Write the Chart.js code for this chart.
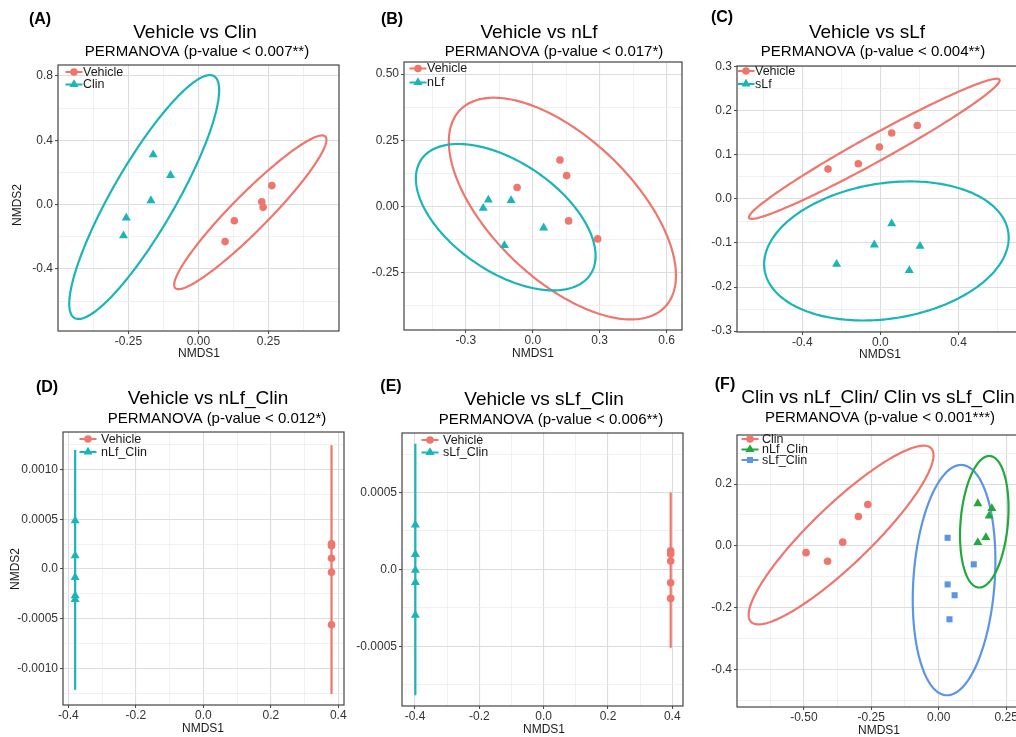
<!DOCTYPE html>
<html><head><meta charset="utf-8">
<script src="https://cdn.jsdelivr.net/npm/chart.js@4.4.1/dist/chart.umd.min.js"></script>
<style>
html,body{margin:0;padding:0;background:#fff;width:1016px;height:737px;overflow:hidden;position:relative}
canvas{position:absolute}
</style></head><body>
<script>
// ---------------- DATA ----------------
// Panel A: Vehicle vs Clin
const A_xTicks = [-0.25, 0, 0.25];           const A_xLabels = ['-0.25','0.00','0.25'];
const A_yTicks = [-0.4, 0, 0.4, 0.8];        const A_yLabels = ['-0.4','0.0','0.4','0.8'];
const A_vehicle_x = [0.095, 0.128, 0.226, 0.231, 0.262];
const A_vehicle_y = [-0.230, -0.100, 0.017, -0.017, 0.118];
const A_clin_x = [-0.268, -0.258, -0.170, -0.162, -0.100];
const A_clin_y = [-0.193, -0.083, 0.025, 0.311, 0.182];
const A_vehicle_ell = [0.185, -0.048, 0.268, 0.471, 0.046, -0.081];   // centre x,y ; axis u ; axis v
const A_clin_ell = [-0.194, 0.047, 0.250, 0.751, 0.096, -0.104];

// Panel B: Vehicle vs nLf
const B_xTicks = [-0.3, 0, 0.3, 0.6];        const B_xLabels = ['-0.3','0.0','0.3','0.6'];
const B_yTicks = [-0.25, 0, 0.25, 0.5];      const B_yLabels = ['-0.25','0.00','0.25','0.50'];
const B_vehicle_x = [-0.070, 0.122, 0.152, 0.161, 0.291];
const B_vehicle_y = [0.072, 0.176, 0.117, -0.054, -0.122];
const B_nlf_x = [-0.222, -0.199, -0.097, 0.049, -0.127];
const B_nlf_y = [-0.006, 0.025, 0.023, -0.080, -0.147];
const B_vehicle_ell = [0.133, -0.0075, 0.459, -0.372, 0.220, 0.192];
const B_nlf_ell = [-0.121, -0.040, 0.378, -0.218, 0.139, 0.170];

// Panel C: Vehicle vs sLf
const C_xTicks = [-0.4, 0, 0.4];             const C_xLabels = ['-0.4','0.0','0.4'];
const C_yTicks = [-0.3, -0.2, -0.1, 0, 0.1, 0.2, 0.3];
const C_yLabels = ['-0.3','-0.2','-0.1','0.0','0.1','0.2','0.3'];
const C_vehicle_x = [-0.268, -0.113, -0.005, 0.058, 0.189];
const C_vehicle_y = [0.068, 0.080, 0.118, 0.150, 0.167];
const C_slf_x = [-0.224, -0.031, 0.058, 0.148, 0.203];
const C_slf_y = [-0.148, -0.104, -0.056, -0.162, -0.107];
const C_vehicle_ell = [-0.031, 0.114, 0.641, 0.157, 0.033, -0.026];
const C_slf_ell = [0.031, -0.118, 0.626, 0.030, 0, 0.155];

// Panel D: Vehicle vs nLf_Clin
const D_xTicks = [-0.4, -0.2, 0, 0.2, 0.4];  const D_xLabels = ['-0.4','-0.2','0.0','0.2','0.4'];
const D_yTicks = [-0.001, -0.0005, 0, 0.0005, 0.001];
const D_yLabels = ['-0.0010','-0.0005','0.0','0.0005','0.0010'];
const D_vehicle_x = [0.38, 0.38, 0.38, 0.38, 0.38];
const D_vehicle_y = [0.000254, 0.000234, 0.000107, -0.000033, -0.000562];
const D_nlfclin_x = [-0.38, -0.38, -0.38, -0.38, -0.38];
const D_nlfclin_y = [0.000485, 0.000134, -0.000084, -0.000268, -0.000305];
const D_vehicle_ell = [0.38, -0.0000025, 0, 0.0012475, 0, 0];
const D_nlfclin_ell = [-0.38, -0.0000065, 0, 0.0012015, 0, 0];

// Panel E: Vehicle vs sLf_Clin
const E_xTicks = [-0.4, -0.2, 0, 0.2, 0.4];  const E_xLabels = ['-0.4','-0.2','0.0','0.2','0.4'];
const E_yTicks = [-0.0005, 0, 0.0005];       const E_yLabels = ['-0.0005','0.0','0.0005'];
const E_vehicle_x = [0.395, 0.395, 0.395, 0.395, 0.395];
const E_vehicle_y = [0.000121, 0.000100, 0.000054, -0.000087, -0.000189];
const E_slfclin_x = [-0.399, -0.399, -0.399, -0.399, -0.399];
const E_slfclin_y = [0.000289, 0.000098, -0.000005, -0.000085, -0.000298];
const E_vehicle_ell = [0.395, -0.0000025, 0, 0.0005025, 0, 0];
const E_slfclin_ell = [-0.399, 0.000002, 0, 0.000815, 0, 0];

// Panel F: Clin vs nLf_Clin / Clin vs sLf_Clin
const F_xTicks = [-0.5, -0.25, 0, 0.25];     const F_xLabels = ['-0.50','-0.25','0.00','0.25'];
const F_yTicks = [-0.4, -0.2, 0, 0.2];       const F_yLabels = ['-0.4','-0.2','0.0','0.2'];
const F_clin_x = [-0.492, -0.412, -0.356, -0.298, -0.263];
const F_clin_y = [-0.022, -0.050, 0.012, 0.095, 0.134];
const F_nlfclin_x = [0.145, 0.197, 0.187, 0.175, 0.145];
const F_nlfclin_y = [0.137, 0.121, 0.097, 0.027, 0.011];
const F_slfclin_x = [0.033, 0.130, 0.033, 0.059, 0.040];
const F_slfclin_y = [0.026, -0.060, -0.125, -0.160, -0.238];
const F_clin_ell = [-0.362, 0.035, 0.334, 0.281, 0.077, -0.069];
const F_slfclin_ell = [0.057, -0.111, 0.026, 0.373, 0.151, 0];
const F_nlfclin_ell = [0.169, 0.078, 0.0185, 0.213, 0.088, 0];

// ---------------- STYLE ----------------
const FONT = "'Liberation Sans', Arial, sans-serif";
const RED = '#EE766D', TEAL = '#19B5B8', GREEN = '#22A93C', BLUE = '#5A95E8';
Chart.defaults.font.family = FONT;

function pts(xs, ys){ return xs.map((x,i)=>({x:x, y:ys[i]})); }
function minorsOf(maj, min, max){
  const step = maj[1]-maj[0], out=[];
  const cand = [maj[0]-step/2].concat(maj.map(m=>m+step/2));
  cand.forEach(v=>{ if (v>min && v<max) out.push(v); });
  return out;
}
function drawMarker(ctx, style, x, y, r, color){
  ctx.save(); ctx.fillStyle = color; ctx.beginPath();
  if (style === 'triangle'){
    for (let k=0;k<3;k++){ const a = -Math.PI/2 + k*2*Math.PI/3;
      const px = x + Math.cos(a)*r, py = y + Math.sin(a)*r;
      if (k===0) ctx.moveTo(px,py); else ctx.lineTo(px,py); }
    ctx.closePath();
  } else if (style === 'rect'){
    const s = Math.SQRT1_2*r; ctx.rect(x-s, y-s, 2*s, 2*s);
  } else { ctx.arc(x, y, r, 0, 2*Math.PI); }
  ctx.fill(); ctx.restore();
}

const ellipsePlugin = {
  id: 'ellipses',
  beforeDatasetsDraw(chart, args, o){
    const {ctx, chartArea:ca} = chart, sx = chart.scales.x, sy = chart.scales.y;
    ctx.save();
    ctx.beginPath(); ctx.rect(ca.left, ca.top, ca.right-ca.left, ca.bottom-ca.top); ctx.clip();
    (o.items||[]).forEach(e=>{
      const p = e.p;
      const cx = sx.getPixelForValue(p[0]), cy = sy.getPixelForValue(p[1]);
      const ux = sx.getPixelForValue(p[0]+p[2]) - cx, uy = sy.getPixelForValue(p[1]+p[3]) - cy;
      const vx = sx.getPixelForValue(p[0]+p[4]) - cx, vy = sy.getPixelForValue(p[1]+p[5]) - cy;
      ctx.beginPath();
      const N = 240;
      for (let i=0;i<=N;i++){
        const t = i/N*2*Math.PI, c = Math.cos(t), s = Math.sin(t);
        const px = cx + ux*c + vx*s, py = cy + uy*c + vy*s;
        if (i===0) ctx.moveTo(px,py); else ctx.lineTo(px,py);
      }
      ctx.strokeStyle = e.color; ctx.lineWidth = 2.2; ctx.lineJoin='round'; ctx.stroke();
    });
    ctx.restore();
  }
};

const decoPlugin = {
  id: 'deco',
  afterDraw(chart, args, o){
    const ctx = chart.ctx, ca = chart.chartArea;
    const X = v => v - o.ox, Y = v => v - o.oy;
    ctx.save();
    ctx.strokeStyle = '#444'; ctx.lineWidth = 1.2;
    ctx.strokeRect(ca.left, ca.top, ca.right-ca.left, ca.bottom-ca.top);
    ctx.fillStyle = '#000'; ctx.textAlign = 'center'; ctx.textBaseline = 'middle';
    ctx.font = 'bold 16px ' + FONT; ctx.fillText(o.label[0], X(o.label[1]), Y(o.label[2]));
    ctx.font = '19px ' + FONT; ctx.fillText(o.title[0], X(o.title[1]), Y(o.title[2]));
    ctx.font = '15px ' + FONT; ctx.fillText(o.sub[0], X(o.sub[1]), Y(o.sub[2]));
    ctx.font = '12px ' + FONT; ctx.fillStyle = '#1a1a1a';
    ctx.fillText('NMDS1', X(o.xTitle[0]), Y(o.xTitle[1]));
    if (o.yTitle){
      ctx.save(); ctx.translate(X(o.yTitle[0]), Y(o.yTitle[1])); ctx.rotate(-Math.PI/2);
      ctx.fillText('NMDS2', 0, 0); ctx.restore();
    }
    const lg = o.legend;
    ctx.font = '12.5px ' + FONT; ctx.textAlign = 'left';
    chart.data.datasets.forEach((ds,i)=>{
      const xx = X(lg.x), yy = Y(lg.y + i*lg.dy);
      ctx.strokeStyle = ds.backgroundColor; ctx.lineWidth = 2;
      ctx.beginPath(); ctx.moveTo(xx-8.5, yy); ctx.lineTo(xx+8.5, yy); ctx.stroke();
      drawMarker(ctx, ds.pointStyle, xx, yy, ds.pointRadius, ds.backgroundColor);
      ctx.fillStyle = '#1a1a1a'; ctx.fillText(ds.label, X(lg.tx), yy + 0.5);
    });
    ctx.restore();
  }
};

function axis(ticks, labels, min, max, isY){
  const minors = minorsOf(ticks, min, max);
  const all = ticks.concat(minors).sort((a,b)=>a-b);
  const tol = (max-min)*1e-6;
  const isMajor = v => ticks.some(m => Math.abs(m-v) < tol);
  return {
    type:'linear', min:min, max:max,
    afterBuildTicks: s => { s.ticks = all.map(v=>({value:v})); },
    afterFit: s => { if (isY) s.width = 50; else s.height = 20; },
    ticks:{ autoSkip:false, maxRotation:0, minRotation:0, padding: isY ? 2 : 0,
      color:'#333', font:{family:FONT, size:12},
      callback: v => { const k = ticks.findIndex(m => Math.abs(m-v) < tol); return k>=0 ? labels[k] : ''; } },
    grid:{ drawTicks:true, tickLength:3, tickWidth:1,
      color: c => isMajor(c.tick.value) ? '#DDDDDD' : '#EBEBEB',
      lineWidth: c => isMajor(c.tick.value) ? 1.1 : 0.7,
      tickColor: c => isMajor(c.tick.value) ? '#444' : 'rgba(0,0,0,0)' },
    border:{ display:false }
  };
}

function panel(cfg){
  const [fl, ft, fr, fb] = cfg.frame;
  const left = fl - 60, top = cfg.rowTop, width = fr - left + 12, height = cfg.rowH;
  const cv = document.createElement('canvas');
  cv.width = width; cv.height = height;
  cv.style.left = left + 'px'; cv.style.top = top + 'px';
  cv.style.width = width + 'px'; cv.style.height = height + 'px';
  document.body.appendChild(cv);
  new Chart(cv, {
    type:'scatter',
    data:{ datasets: cfg.series.map(s => ({
      label:s.label, data:pts(s.x, s.y), pointStyle:s.style, pointRadius:s.r,
      backgroundColor:s.color, borderColor:s.color, borderWidth:0, pointBorderWidth:0 })) },
    options:{
      responsive:false, animation:false, events:[], devicePixelRatio:1,
      layout:{ padding:{ left:10, top: ft - top, right:12, bottom: height - (fb - top) - 20 } },
      plugins:{ legend:{display:false}, tooltip:{enabled:false},
        ellipses:{ items: cfg.ellipses },
        deco:{ ox:left, oy:top, label:cfg.label, title:cfg.title, sub:cfg.sub,
               xTitle:cfg.xTitle, yTitle:cfg.yTitle, legend:cfg.legend } },
      scales:{ x: axis(cfg.xTicks, cfg.xLabels, cfg.xRange[0], cfg.xRange[1], false),
               y: axis(cfg.yTicks, cfg.yLabels, cfg.yRange[0], cfg.yRange[1], true) }
    },
    plugins:[ellipsePlugin, decoPlugin]
  });
}

const CIRC = 3.8, TRI = 5.2, SQ = 4.3;

panel({ rowTop:0, rowH:368, frame:[58,65,339,331],
  xRange:[-0.502,0.502], yRange:[-0.786,0.868],
  xTicks:A_xTicks, xLabels:A_xLabels, yTicks:A_yTicks, yLabels:A_yLabels,
  series:[{label:'Vehicle', x:A_vehicle_x, y:A_vehicle_y, color:RED, style:'circle', r:CIRC},
          {label:'Clin', x:A_clin_x, y:A_clin_y, color:TEAL, style:'triangle', r:TRI}],
  ellipses:[{p:A_vehicle_ell, color:RED},{p:A_clin_ell, color:TEAL}],
  label:['(A)',40,20], title:['Vehicle vs Clin',195,33], sub:['PERMANOVA (p-value < 0.007**)',197,52],
  xTitle:[199,353.5], yTitle:[18,205], legend:{x:74, y:72, dy:12.5, tx:83} });

panel({ rowTop:0, rowH:368, frame:[404,62,682,330],
  xRange:[-0.577,0.669], yRange:[-0.466,0.546],
  xTicks:B_xTicks, xLabels:B_xLabels, yTicks:B_yTicks, yLabels:B_yLabels,
  series:[{label:'Vehicle', x:B_vehicle_x, y:B_vehicle_y, color:RED, style:'circle', r:CIRC},
          {label:'nLf', x:B_nlf_x, y:B_nlf_y, color:TEAL, style:'triangle', r:TRI}],
  ellipses:[{p:B_vehicle_ell, color:RED},{p:B_nlf_ell, color:TEAL}],
  label:['(B)',392,20], title:['Vehicle vs nLf',539,33], sub:['PERMANOVA (p-value < 0.017*)',554,52],
  xTitle:[533,353.5], yTitle:null, legend:{x:418, y:68.5, dy:14, tx:427} });

panel({ rowTop:0, rowH:368, frame:[737,66,1021,332],
  xRange:[-0.734,0.72], yRange:[-0.302,0.302],
  xTicks:C_xTicks, xLabels:C_xLabels, yTicks:C_yTicks, yLabels:C_yLabels,
  series:[{label:'Vehicle', x:C_vehicle_x, y:C_vehicle_y, color:RED, style:'circle', r:CIRC},
          {label:'sLf', x:C_slf_x, y:C_slf_y, color:TEAL, style:'triangle', r:TRI}],
  ellipses:[{p:C_vehicle_ell, color:RED},{p:C_slf_ell, color:TEAL}],
  label:['(C)',722,18], title:['Vehicle vs sLf',867,33], sub:['PERMANOVA (p-value < 0.004**)',873,52],
  xTitle:[880,354.5], yTitle:null, legend:{x:746, y:71, dy:13, tx:755} });

panel({ rowTop:368, rowH:369, frame:[63,432,344,705],
  xRange:[-0.416,0.417], yRange:[-0.001368,0.001377],
  xTicks:D_xTicks, xLabels:D_xLabels, yTicks:D_yTicks, yLabels:D_yLabels,
  series:[{label:'Vehicle', x:D_vehicle_x, y:D_vehicle_y, color:RED, style:'circle', r:CIRC},
          {label:'nLf_Clin', x:D_nlfclin_x, y:D_nlfclin_y, color:TEAL, style:'triangle', r:TRI}],
  ellipses:[{p:D_vehicle_ell, color:RED},{p:D_nlfclin_ell, color:TEAL}],
  label:['(D)',47,388], title:['Vehicle vs nLf_Clin',208,399], sub:['PERMANOVA (p-value < 0.012*)',217,419],
  xTitle:[203,729], yTitle:[16,569], legend:{x:88, y:439, dy:13, tx:101} });

panel({ rowTop:368, rowH:369, frame:[402,433,683,706],
  xRange:[-0.4405,0.4333], yRange:[-0.000889,0.000887],
  xTicks:E_xTicks, xLabels:E_xLabels, yTicks:E_yTicks, yLabels:E_yLabels,
  series:[{label:'Vehicle', x:E_vehicle_x, y:E_vehicle_y, color:RED, style:'circle', r:CIRC},
          {label:'sLf_Clin', x:E_slfclin_x, y:E_slfclin_y, color:TEAL, style:'triangle', r:TRI}],
  ellipses:[{p:E_vehicle_ell, color:RED},{p:E_slfclin_ell, color:TEAL}],
  label:['(E)',391,387], title:['Vehicle vs sLf_Clin',544,400], sub:['PERMANOVA (p-value < 0.006**)',551,420],
  xTitle:[544,729.5], yTitle:null, legend:{x:430, y:440, dy:12.5, tx:443} });

panel({ rowTop:368, rowH:369, frame:[737,435,1025,707],
  xRange:[-0.748,0.32], yRange:[-0.522,0.359],
  xTicks:F_xTicks, xLabels:F_xLabels, yTicks:F_yTicks, yLabels:F_yLabels,
  series:[{label:'Clin', x:F_clin_x, y:F_clin_y, color:RED, style:'circle', r:CIRC},
          {label:'nLf_Clin', x:F_nlfclin_x, y:F_nlfclin_y, color:GREEN, style:'triangle', r:TRI},
          {label:'sLf_Clin', x:F_slfclin_x, y:F_slfclin_y, color:BLUE, style:'rect', r:SQ}],
  ellipses:[{p:F_clin_ell, color:RED},{p:F_slfclin_ell, color:BLUE},{p:F_nlfclin_ell, color:GREEN}],
  label:['(F)',725,385], title:['Clin vs nLf_Clin/ Clin vs sLf_Clin',878,398], sub:['PERMANOVA (p-value < 0.001***)',880,418],
  xTitle:[879,731], yTitle:null, legend:{x:750, y:439, dy:10.5, tx:762} });
</script>
</body></html>
